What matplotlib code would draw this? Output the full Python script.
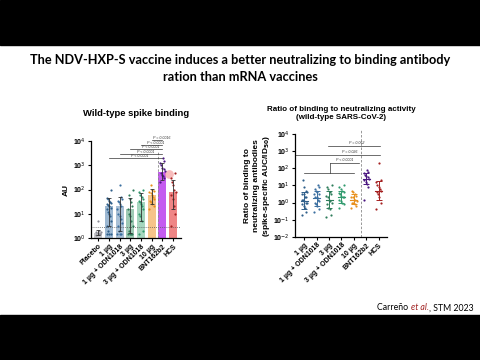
import numpy as np
import matplotlib
matplotlib.use("Agg")
import matplotlib.pyplot as plt
from matplotlib.patches import Rectangle

plt.rcParams["font.family"] = ["Liberation Sans", "DejaVu Sans"]

# ---- data: left panel (binding, AU) ----
groups_left = ["Placebo", "1 µg", "1 µg + ODN1018", "3 µg", "3 µg + ODN1018",
               "10 µg", "BNT162b2", "HCS"]
bar_left = [1.6, 20, 20, 15, 30, 60, 550, 80]
err_lo_left = [1.3, 3, 2, 1.6, 5, 25, 250, 15]
err_hi_left = [2.2, 45, 50, 45, 70, 110, 1300, 250]
pts_left = [
    [1.3, 1.5, 1.5, 1.6, 1.7, 1.8, 2.0, 5.0],
    [1.5, 1.5, 1.5, 2, 3, 5, 8, 10, 12, 15, 18, 20, 22, 25, 28, 30, 35, 40, 45, 100],
    [1.5, 1.5, 1.5, 2, 3, 4, 6, 8, 10, 15, 20, 25, 30, 35, 40, 50, 150],
    [1.5, 1.5, 1.5, 1.5, 2, 3, 5, 8, 10, 15, 20, 30, 40, 60, 100],
    [1.5, 2, 5, 8, 10, 15, 20, 25, 30, 35, 40, 50, 60, 80, 100],
    [15, 20, 25, 30, 35, 40, 50, 60, 70, 80, 90, 100, 150],
    [200, 300, 350, 400, 500, 600, 700, 800, 1000, 1200, 1500, 2000],
    [3, 10, 20, 40, 60, 80, 100, 150, 200, 300, 500],
]
lod_left = 2.8
brackets_left = [  # (start group, end group, label)
    (5, 6, "P = 0.0016"),
    (4, 6, "P < 0.0001"),
    (3, 6, "P < 0.0001"),
    (2, 6, "P < 0.0001"),
    (1, 6, "P < 0.0001"),
]
bracket_y_left = [11000, 6700, 4600, 2900, 1950]

# ---- data: right panel (ratio) ----
groups_right = ["1 µg", "1 µg + ODN1018", "3 µg", "3 µg + ODN1018", "10 µg",
                "BNT162b2", "HCS"]
mean_right = [1.3, 1.8, 1.5, 2.2, 1.5, 25, 5]
sd_lo_right = [0.4, 0.6, 0.5, 0.9, 0.8, 12, 1.5]
sd_hi_right = [4, 5, 5, 5, 3, 50, 18]
pts_right = [
    [0.2, 0.3, 0.5, 0.6, 0.8, 1, 1, 1.2, 1.5, 1.5, 2, 2, 3, 3, 4, 5, 8, 20],
    [0.3, 0.4, 0.6, 0.8, 1, 1.2, 1.5, 2, 2, 3, 3, 4, 5, 6, 8, 10],
    [0.15, 0.2, 0.4, 0.5, 0.8, 1, 1.2, 1.5, 2, 2.5, 3, 4, 6, 8, 10],
    [0.5, 0.8, 1, 1.2, 1.5, 2, 2, 2.5, 3, 3.5, 4, 5, 6, 8, 10],
    [0.5, 0.6, 0.8, 1, 1, 1.2, 1.5, 1.5, 2, 2, 2.5, 3, 4, 5],
    [1.5, 8, 12, 15, 20, 25, 30, 35, 40, 50, 60, 80],
    [0.4, 1, 2, 3, 4, 5, 6, 8, 10, 15, 20, 200],
]

dot_colors = ["#8a8a94", "#2f5f8a", "#3b6fa0", "#2e7d5b", "#2f9a6d",
              "#e8901c", "#4a1680", "#a52020"]
bar_colors = ["#c8c8cc", "#9db8d2", "#a9c0d6", "#9fcab5", "#a6d6bf",
              "#f6c48a", "#c45cf0", "#ef8585"]

title_font = ["Lato", "DejaVu Sans"]


def jitter(n):
    i = np.arange(n)
    return ((i * 7) % 9 - 4) * 0.055


fig = plt.figure(figsize=(4.8, 3.6), dpi=100)
fig.patch.set_facecolor("white")

# black letterbox bars
fig.patches.append(Rectangle((0, 0.875), 1, 0.125, transform=fig.transFigure,
                             color="black", zorder=0))
fig.patches.append(Rectangle((0, 0), 1, 0.125, transform=fig.transFigure,
                             color="black", zorder=0))

fig.text(0.5, 0.833, "The NDV-HXP-S vaccine induces a better neutralizing to binding antibody",
         ha="center", va="center", fontsize=9.2, fontweight="bold", family=title_font)
fig.text(0.5, 0.786, "ration than mRNA vaccines",
         ha="center", va="center", fontsize=9.2, fontweight="bold", family=title_font)

# citation with italic "et al."
fig.canvas.draw()
r = fig.canvas.get_renderer()
cx = 0.786
for txt, sty, col in [("Carreño ", "normal", "black"), ("et al.", "italic", "#a02020"),
                      (", STM 2023", "normal", "black")]:
    t = fig.text(cx, 0.145, txt, ha="left", va="center", fontsize=6.3,
                 style=sty, color=col, family=title_font)
    cx = t.get_window_extent(r).x1 / fig.bbox.width

# ---------------- left panel ----------------
ax1 = fig.add_axes([0.190, 0.339, 0.1875, 0.269])
xl = np.arange(len(groups_left))
ax1.bar(xl, bar_left, width=0.75, color=bar_colors, bottom=0, zorder=1)
for i, vals in enumerate(pts_left):
    ax1.scatter(xl[i] + jitter(len(vals)), vals, s=2.5, color=dot_colors[i],
                zorder=3, linewidths=0)
    ax1.errorbar(xl[i], bar_left[i],
                 yerr=[[bar_left[i] - err_lo_left[i]], [err_hi_left[i] - bar_left[i]]],
                 fmt="none", ecolor="#303030", elinewidth=0.6, capsize=1.5,
                 capthick=0.6, zorder=4)
ax1.axhline(lod_left, color="#555555", lw=0.6, ls=(0, (1, 1.5)), zorder=2)
ax1.plot([5.55, 5.55], [1, 4000], color="#888888", lw=0.6, ls=(0, (3, 2)), zorder=2)
ax1.scatter([6.6], [420], s=40, color="#f4a0a0", alpha=0.7, zorder=2, linewidths=0)
for (a, b, lab), yy in zip(brackets_left, bracket_y_left):
    ax1.plot([a, b], [yy, yy], color="#333333", lw=0.5, zorder=5, clip_on=False)
    ax1.text((a + b) / 2 + 0.4, yy * 1.05, lab, ha="center", va="bottom",
             fontsize=2.6, style="italic", color="#333333", clip_on=False)
ax1.set_yscale("log")
ax1.set_ylim(1, 1e4)
ax1.set_xlim(-0.65, 7.75)
ax1.set_xticks(xl)
ax1.set_xticklabels(groups_left, rotation=45, ha="right", rotation_mode="anchor",
                    fontsize=5, fontweight="bold")
ax1.set_yticks([1, 10, 100, 1000, 1e4])
ax1.set_yticklabels(["10$^{0}$", "10$^{1}$", "10$^{2}$", "10$^{3}$", "10$^{4}$"])
ax1.minorticks_off()
ax1.tick_params(axis="y", labelsize=5, length=2.5, width=0.8, pad=1.5)
ax1.tick_params(axis="x", length=2, width=0.8, pad=1.5)
for lab in ax1.get_yticklabels():
    lab.set_fontweight("bold")
ax1.set_ylabel("AU", fontsize=6, fontweight="bold", labelpad=2)
ax1.spines[["top", "right"]].set_visible(False)
ax1.spines[["left", "bottom"]].set_linewidth(0.9)
ax1.set_title("Wild-type spike binding", fontsize=6.8, fontweight="bold", pad=18)

# ---------------- right panel ----------------
ax2 = fig.add_axes([0.615, 0.342, 0.192, 0.286])
xr = np.arange(len(groups_right))
for i, vals in enumerate(pts_right):
    ax2.scatter(xr[i] + jitter(len(vals)), vals, s=2.5, color=dot_colors[i + 1],
                zorder=3, linewidths=0)
    ax2.errorbar(xr[i], mean_right[i],
                 yerr=[[mean_right[i] - sd_lo_right[i]], [sd_hi_right[i] - mean_right[i]]],
                 fmt="none", ecolor=dot_colors[i + 1], elinewidth=0.7, capsize=2,
                 capthick=0.7, zorder=4)
    ax2.plot([xr[i] - 0.28, xr[i] + 0.28], [mean_right[i]] * 2,
             color=dot_colors[i + 1], lw=0.8, zorder=4)
ax2.plot([4.55, 4.55], [1e-2, 1.6e4], color="#888888", lw=0.6, ls=(0, (3, 2)),
         zorder=2, clip_on=False)
# significance brackets
ax2.plot([1.9, 6.1], [1950, 1950], color="#333333", lw=0.5)
ax2.text(4.2, 2200, "P = 0.052", ha="center", va="bottom", fontsize=2.6,
         style="italic", color="#333333")
ax2.plot([-0.73, 6.1], [590, 590], color="#333333", lw=0.5)
ax2.text(3.7, 680, "P = 0.026", ha="center", va="bottom", fontsize=2.6,
         style="italic", color="#333333")
ax2.plot([2.1, 4.4], [200, 200], color="#333333", lw=0.5)
ax2.plot([2.1, 2.1], [200, 52], color="#333333", lw=0.5)
ax2.plot([0, 4.0], [52, 52], color="#333333", lw=0.5)
ax2.text(3.3, 225, "P < 0.0001", ha="center", va="bottom", fontsize=2.6,
         style="italic", color="#333333")
ax2.set_yscale("log")
ax2.set_ylim(1e-2, 1e4)
ax2.set_xlim(-0.73, 6.7)
ax2.set_xticks(xr)
ax2.set_xticklabels(groups_right, rotation=45, ha="right", rotation_mode="anchor",
                    fontsize=5, fontweight="bold")
ax2.set_yticks([1e-2, 1e-1, 1, 10, 100, 1000, 1e4])
ax2.set_yticklabels(["10$^{-2}$", "10$^{-1}$", "10$^{0}$", "10$^{1}$", "10$^{2}$",
                     "10$^{3}$", "10$^{4}$"])
ax2.minorticks_off()
ax2.tick_params(axis="y", labelsize=5, length=2.5, width=0.8, pad=1.5)
ax2.tick_params(axis="x", length=2, width=0.8, pad=1.5)
for lab in ax2.get_yticklabels():
    lab.set_fontweight("bold")
ax2.set_ylabel("Ratio of binding to\nneutralizing antibodies\n(spike-specific AUC/ID$_{\\mathbf{50}}$)",
               fontsize=6, fontweight="bold", labelpad=0.5, linespacing=1.25)
ax2.spines[["top", "right"]].set_visible(False)
ax2.spines[["left", "bottom"]].set_linewidth(0.9)
ax2.set_title("Ratio of binding to neutralizing activity\n(wild-type SARS-CoV-2)",
              fontsize=5.8, fontweight="bold", pad=11, linespacing=1.2)

fig.savefig("out.png", dpi=100, facecolor="white")
